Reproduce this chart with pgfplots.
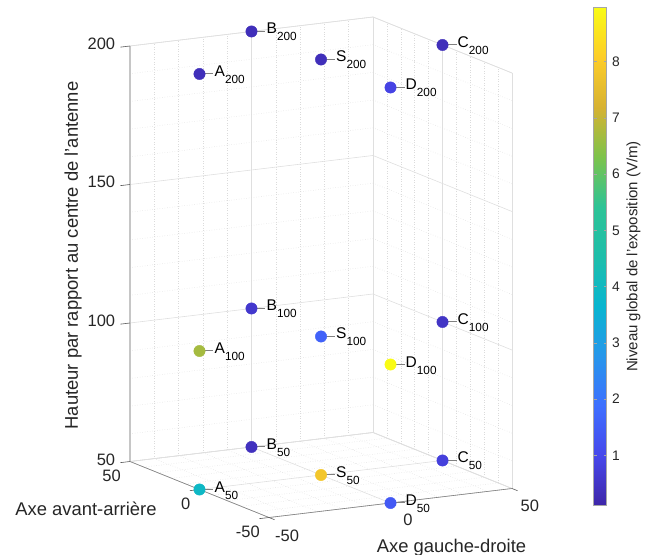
\documentclass[border=0pt]{standalone}
\usepackage{fontspec}
\setmainfont{Liberation Sans}
\usepackage{pgfplots}
\pgfplotsset{compat=1.18}
\usetikzlibrary{arrows.meta}
\definecolor{txt}{RGB}{38,38,38}
\newcommand{\lab}[5]{%
  \draw[gray,line width=0.6bp,{Straight Barb[length=2.5bp,width=3.5bp,black]}-] ([xshift=2bp,yshift=0.5bp]axis cs:#1,#2,#3) -- ([xshift=14bp,yshift=0.5bp]axis cs:#1,#2,#3);
  \node[anchor=base west,inner sep=0pt,text=black,font=\fontsize{15.5bp}{16bp}\selectfont] at (axis cs:#1,#2,#3) [xshift=15bp,yshift=-2.5bp] {#4\raisebox{-7bp}{\fontsize{11.8bp}{13bp}\selectfont #5}};
}
\pgfplotstableread{
x y z c
-50 0 200 0.35
0 50 200 0.35
0 0 200 0.35
50 0 200 0.35
0 -50 200 0.9
-50 0 100 6.7
0 50 100 0.6
0 0 100 1.6
50 0 100 0.5
0 -50 100 8.96
-50 0 50 3.9
0 50 50 0.4
0 0 50 7.85
50 0 50 0.8
0 -50 50 1.4
}\pts
\begin{document}
\begin{tikzpicture}
\path[use as bounding box] (0,0) rectangle (651bp,555bp);
\begin{axis}[
  at={(321bp,80bp)},anchor=origin,
  x={(2.43bp,0.29bp)},y={(-1.39bp,0.56bp)},z={(0bp,2.77bp)},
  xmin=-50,xmax=50,ymin=-50,ymax=50,zmin=50,zmax=200,
  xtick={-50,0,50},ytick={-50,0,50},ztick={50,100,150,200},
  xticklabels={-50,0,50},yticklabels={{-50\hspace{38bp}},{0\hspace{18bp}},{50}},
  xtick pos=left,ytick pos=left,ztick pos=left,
  minor x tick num=4,minor y tick num=4,minor z tick num=4,
  grid=both,
  major grid style={gray!25,line width=0.6bp},
  minor grid style={gray!28,line width=0.5bp,dotted},
  axis line style={gray!25,line width=0.6bp},
  tick align=outside,major tick length=5bp,minor tick length=0pt,
  tick style={draw=none},
  /pgf/number format/assume math mode=true,
  tick label style={text=txt,font=\fontsize{16.5bp}{18bp}\selectfont,inner sep=1bp},
  xticklabel style={xshift=8bp,yshift=-8bp},
  yticklabel style={anchor=east,xshift=-3bp,yshift=-14bp},
  zticklabel style={xshift=-9bp,yshift=-1.5bp},
  label style={text=txt,font=\fontsize{18.4bp}{20bp}\selectfont},
  xlabel={Axe gauche-droite},ylabel={Axe avant-arrière},zlabel={Hauteur par rapport au centre de l'antenne},
  xlabel style={at={(axis cs:-50,-50,50)},anchor=center,xshift=182.5bp,yshift=-30bp},
  ylabel style={at={(axis cs:-50,-50,50)},anchor=center,xshift=-183bp,yshift=9bp,rotate=0},
  zlabel style={at={(axis cs:-50,50,50)},anchor=center,xshift=206bp,yshift=57bp},
  colormap={parula}{rgb255=(62,38,168) rgb255=(71,71,235) rgb255=(62,111,255) rgb255=(39,150,235) rgb255=(8,181,208) rgb255=(30,190,170) rgb255=(45,195,150) rgb255=(125,195,75) rgb255=(215,178,50) rgb255=(253,205,40) rgb255=(249,251,21)},
  point meta min=0.11,point meta max=8.96,
  colorbar,
  colorbar style={
    at={(parent axis.south east)},anchor=south west,xshift=73bp,yshift=12bp,
    width=13bp,height=498bp,
    ytick={1,2,3,4,5,6,7,8},
    axis line style={gray!70,line width=0.6bp},
    tick style={gray!70,line width=0.5bp},tick align=inside,major tick length=3bp,
    /pgf/number format/assume math mode=true,
    yticklabel style={text=txt,font=\fontsize{13.8bp}{15bp}\selectfont,xshift=4.5bp},
    ylabel={Niveau global de l'exposition (V/m)},
    ylabel style={text=txt,font=\fontsize{15bp}{16bp}\selectfont,yshift=-2bp},
  },
  clip=false,
]
\addplot3[gray!45,line width=1.2bp,forget plot] coordinates {(-50,50,50) (-50,50,200)};
\addplot3[gray!35!black!60,line width=0.6bp,forget plot] coordinates {(-50,50,50) (-50,-50,50) (50,-50,50)};
% tick marks
\addplot3[gray!70!black,line width=0.6bp,forget plot] coordinates {(-54,50,50) (-50,50,50)};
\addplot3[gray!70!black,line width=0.6bp,forget plot] coordinates {(-54,50,100) (-50,50,100)};
\addplot3[gray!70!black,line width=0.6bp,forget plot] coordinates {(-54,50,150) (-50,50,150)};
\addplot3[gray!70!black,line width=0.6bp,forget plot] coordinates {(-54,50,200) (-50,50,200)};
\addplot3[gray!70!black,line width=0.6bp,forget plot] coordinates {(-54,0,50) (-50,0,50)};
\addplot3[gray!70!black,line width=0.6bp,forget plot] coordinates {(-54,-50,50) (-50,-50,50)};
\addplot3[gray!70!black,line width=0.6bp,forget plot] coordinates {(-50,-54,50) (-50,-50,50)};
\addplot3[gray!70!black,line width=0.6bp,forget plot] coordinates {(0,-54,50) (0,-50,50)};
\addplot3[gray!70!black,line width=0.6bp,forget plot] coordinates {(50,-54,50) (50,-50,50)};
\addplot3[scatter,only marks,mark=*,mark size=5.7bp,scatter src=explicit,
  scatter/use mapped color={draw=mapped color,fill=mapped color}]
  table[x=x,y=y,z=z,meta=c]{\pts};
\lab{-50}{0}{200}{A}{200}
\lab{0}{50}{200}{B}{200}
\lab{0}{0}{200}{S}{200}
\lab{50}{0}{200}{C}{200}
\lab{0}{-50}{200}{D}{200}
\lab{-50}{0}{100}{A}{100}
\lab{0}{50}{100}{B}{100}
\lab{0}{0}{100}{S}{100}
\lab{50}{0}{100}{C}{100}
\lab{0}{-50}{100}{D}{100}
\lab{-50}{0}{50}{A}{50}
\lab{0}{50}{50}{B}{50}
\lab{0}{0}{50}{S}{50}
\lab{50}{0}{50}{C}{50}
\lab{0}{-50}{50}{D}{50}
\end{axis}
\end{tikzpicture}
\end{document}
